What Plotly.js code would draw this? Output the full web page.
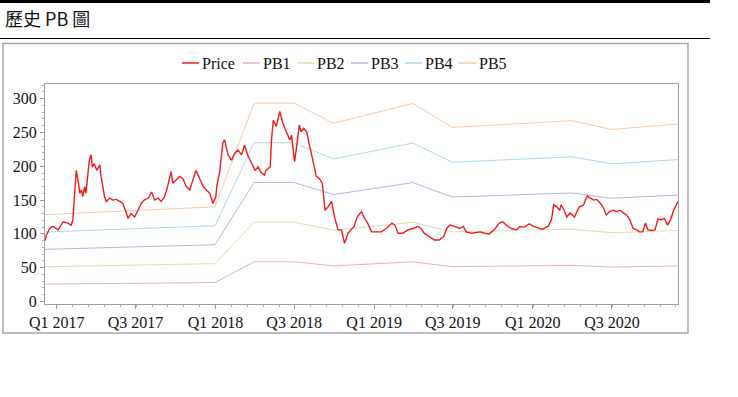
<!DOCTYPE html>
<html>
<head>
<meta charset="utf-8">
<script src="https://cdn.plot.ly/plotly-3.0.1.min.js"></script>
<style>
html,body{margin:0;padding:0;background:#fff;}
#chart{width:738px;height:397px;}
</style>
</head>
<body>
<div id="chart"></div>
<script>
// ---- data ----
const priceDates = ['2016-12-05','2016-12-08','2016-12-16','2016-12-23','2017-01-04','2017-01-16','2017-01-27','2017-02-03','2017-02-07','2017-02-15','2017-02-20','2017-02-23','2017-02-27','2017-03-02','2017-03-06','2017-03-09','2017-03-17','2017-03-21','2017-03-24','2017-03-28','2017-04-03','2017-04-10','2017-04-13','2017-04-21','2017-04-25','2017-05-03','2017-05-10','2017-05-18','2017-05-26','2017-06-02','2017-06-09','2017-06-14','2017-06-21','2017-06-29','2017-07-07','2017-07-14','2017-07-21','2017-07-31','2017-08-07','2017-08-14','2017-08-22','2017-08-29','2017-09-06','2017-09-13','2017-09-21','2017-09-25','2017-10-03','2017-10-11','2017-10-18','2017-10-26','2017-11-03','2017-11-10','2017-11-17','2017-11-27','2017-12-04','2017-12-11','2017-12-19','2017-12-26','2018-01-02','2018-01-04','2018-01-11','2018-01-18','2018-01-22','2018-01-30','2018-02-07','2018-02-14','2018-02-22','2018-03-02','2018-03-09','2018-03-16','2018-03-26','2018-04-02','2018-04-09','2018-04-17','2018-04-24','2018-04-27','2018-05-07','2018-05-10','2018-05-14','2018-05-21','2018-05-29','2018-06-05','2018-06-13','2018-06-21','2018-06-25','2018-06-28','2018-07-02','2018-07-06','2018-07-13','2018-07-17','2018-07-23','2018-07-30','2018-08-02','2018-08-06','2018-08-13','2018-08-21','2018-08-28','2018-09-04','2018-09-10','2018-09-17','2018-09-25','2018-10-02','2018-10-10','2018-10-18','2018-10-25','2018-11-02','2018-11-09','2018-11-16','2018-11-23','2018-12-03','2018-12-10','2018-12-17','2018-12-26','2019-01-07','2019-01-18','2019-01-29','2019-02-11','2019-02-18','2019-02-25','2019-03-08','2019-03-20','2019-04-01','2019-04-12','2019-04-19','2019-04-26','2019-05-08','2019-05-20','2019-05-31','2019-06-10','2019-06-17','2019-06-24','2019-07-05','2019-07-17','2019-07-25','2019-08-01','2019-08-13','2019-08-23','2019-09-02','2019-09-12','2019-09-23','2019-10-04','2019-10-16','2019-10-24','2019-11-01','2019-11-13','2019-11-25','2019-12-02','2019-12-13','2019-12-24','2020-01-02','2020-01-13','2020-01-23','2020-02-05','2020-02-13','2020-02-18','2020-02-25','2020-03-03','2020-03-06','2020-03-13','2020-03-19','2020-03-27','2020-04-06','2020-04-10','2020-04-17','2020-04-27','2020-05-05','2020-05-13','2020-05-20','2020-05-27','2020-06-05','2020-06-12','2020-06-18','2020-06-26','2020-07-03','2020-07-13','2020-07-20','2020-07-27','2020-08-04','2020-08-11','2020-08-19','2020-08-27','2020-09-03','2020-09-10','2020-09-16','2020-09-22','2020-09-30','2020-10-08','2020-10-15','2020-10-23','2020-10-30','2020-11-06','2020-11-13','2020-11-20','2020-11-30'];
const priceValues = [90,98,108,111,106,118,116,113,120,194,175,160,165,155,170,160,209,217,199,204,194,202,185,155,148,153,150,151,148,145,133,123,130,125,135,145,150,153,162,150,153,148,155,170,192,175,180,185,182,170,165,180,194,180,170,165,160,145,155,170,192,234,239,217,209,219,224,217,231,217,204,194,199,190,187,194,199,239,268,259,281,264,251,239,246,231,207,225,261,251,256,251,239,229,209,185,182,175,135,140,148,125,106,106,86,101,106,111,125,133,123,116,103,103,103,108,116,113,101,101,106,108,111,108,101,96,91,91,96,108,113,111,108,111,103,101,102,103,101,100,106,116,118,113,108,106,111,110,115,111,109,107,111,121,143,140,135,143,135,125,131,125,131,140,143,156,153,150,151,145,138,128,133,135,133,135,131,128,121,108,106,103,103,116,106,105,106,122,121,123,113,121,135,148];

const pbDates = ['2016-12-05','2017-12-31','2018-03-31','2018-06-30','2018-09-30','2019-03-31','2019-06-30','2020-03-31','2020-06-30','2020-11-30'];
const pb1 = [25.7, 28.0, 58.7, 58.7, 52.7, 58.6, 51.5, 53.5, 50.9, 52.5];
const pb2 = [51.4, 56.0, 117.4, 117.4, 105.4, 117.2, 103.0, 107.0, 101.8, 105.0];
const pb3 = [77.1, 84.0, 176.1, 176.1, 158.1, 175.8, 154.5, 160.5, 152.7, 157.5];
const pb4 = [102.8, 112.0, 234.8, 234.8, 210.8, 234.4, 206.0, 214.0, 203.6, 210.0];
const pb5 = [128.5, 140.0, 293.5, 293.5, 263.5, 293.0, 257.5, 267.5, 254.5, 262.5];

const seriesNames = ['Price','PB1','PB2','PB3','PB4','PB5'];
const tickDates = ['2017-01-01','2017-07-01','2018-01-01','2018-07-01','2019-01-01','2019-07-01','2020-01-01','2020-07-01'];
const tickLabels = ['Q1 2017','Q3 2017','Q1 2018','Q3 2018','Q1 2019','Q3 2019','Q1 2020','Q3 2020'];
const chartTitle = '歷史 PB 圖';

// ---- styles ----
const colors = {Price:'#ee1c1c', PB1:'#e0b2c4', PB2:'#dcdfb0', PB3:'#b4b5dd', PB4:'#afd5ea', PB5:'#f6cbab'};

const W = 738, H = 397;
const M = {l:45, r:60, t:84, b:93};
const PW = W - M.l - M.r, PH = H - M.t - M.b;
const px = x => (x - M.l) / PW;
const py = y => (H - M.b - y) / PH;

const pbs = [pb1, pb2, pb3, pb4, pb5];
const traces = [];
pbs.forEach((arr, i) => {
  const nm = seriesNames[i+1];
  traces.push({x: pbDates, y: arr, type:'scatter', mode:'lines', name:nm,
    line:{color:colors[nm], width:1}, hoverinfo:'skip'});
});
traces.push({x: priceDates, y: priceValues, type:'scatter', mode:'lines', name:'Price',
  line:{color:colors.Price, width:1.4}});

const serif = 'Liberation Serif, Times New Roman, serif';
const shapes = [
  {type:'rect', xref:'paper', yref:'paper', x0:px(0), x1:px(710), y0:py(0), y1:py(3), fillcolor:'#000', line:{width:0}},
  {type:'line', xref:'paper', yref:'paper', x0:px(0), x1:px(710), y0:py(38.5), y1:py(38.5), line:{color:'#000', width:1}},
  {type:'rect', xref:'paper', yref:'paper', x0:px(3), x1:px(688), y0:py(43.5), y1:py(333), line:{color:'#a8a8a8', width:1.5}}
];
const annotations = [];
// custom legend
const legStart = [182, 243, 297, 351, 405, 459];
seriesNames.forEach((nm, i) => {
  const x0 = legStart[i];
  shapes.push({type:'line', xref:'paper', yref:'paper', x0:px(x0), x1:px(x0+17), y0:py(63), y1:py(63), line:{color:colors[nm], width:1.5}});
  annotations.push({xref:'paper', yref:'paper', x:px(x0+19), y:py(63), xanchor:'left', yanchor:'middle', showarrow:false,
    text:nm, font:{family:serif, size:16, color:'#111'}, borderpad:0});
});

const layout = {
  width: W, height: H,
  margin: M,
  paper_bgcolor:'#fff', plot_bgcolor:'#fff',
  showlegend:false,
  title:{text: chartTitle, xref:'container', yref:'container', x:5/W, xanchor:'left', y:1-20/H, yanchor:'middle',
    font:{family:'Noto Sans CJK TC', size:18, color:'#111'}},
  xaxis:{type:'date', range:['2016-12-05','2020-11-30'], tickmode:'array', tickvals:tickDates, ticktext:tickLabels,
    ticks:'outside', ticklen:4, tickcolor:'#999', showgrid:false, zeroline:false,
    showline:true, linecolor:'#a0a0a0', linewidth:1, mirror:true,
    tickfont:{family:serif, size:16, color:'#111'},
    minor:{ticks:'outside', ticklen:2, tickcolor:'#aaa', tick0:'2017-01-01', dtick:36.52*86400000, showgrid:false}},
  yaxis:{range:[-3.7, 321.7], tickmode:'linear', tick0:0, dtick:50,
    ticks:'outside', ticklen:4, tickcolor:'#999', showgrid:false, zeroline:false,
    showline:true, linecolor:'#a0a0a0', linewidth:1, mirror:true,
    tickfont:{family:serif, size:16, color:'#111'},
    minor:{ticks:'outside', ticklen:2, tickcolor:'#aaa', dtick:10, showgrid:false}},
  shapes: shapes,
  annotations: annotations
};

Plotly.newPlot('chart', traces, layout, {displayModeBar:false, staticPlot:true});
</script>
</body>
</html>
